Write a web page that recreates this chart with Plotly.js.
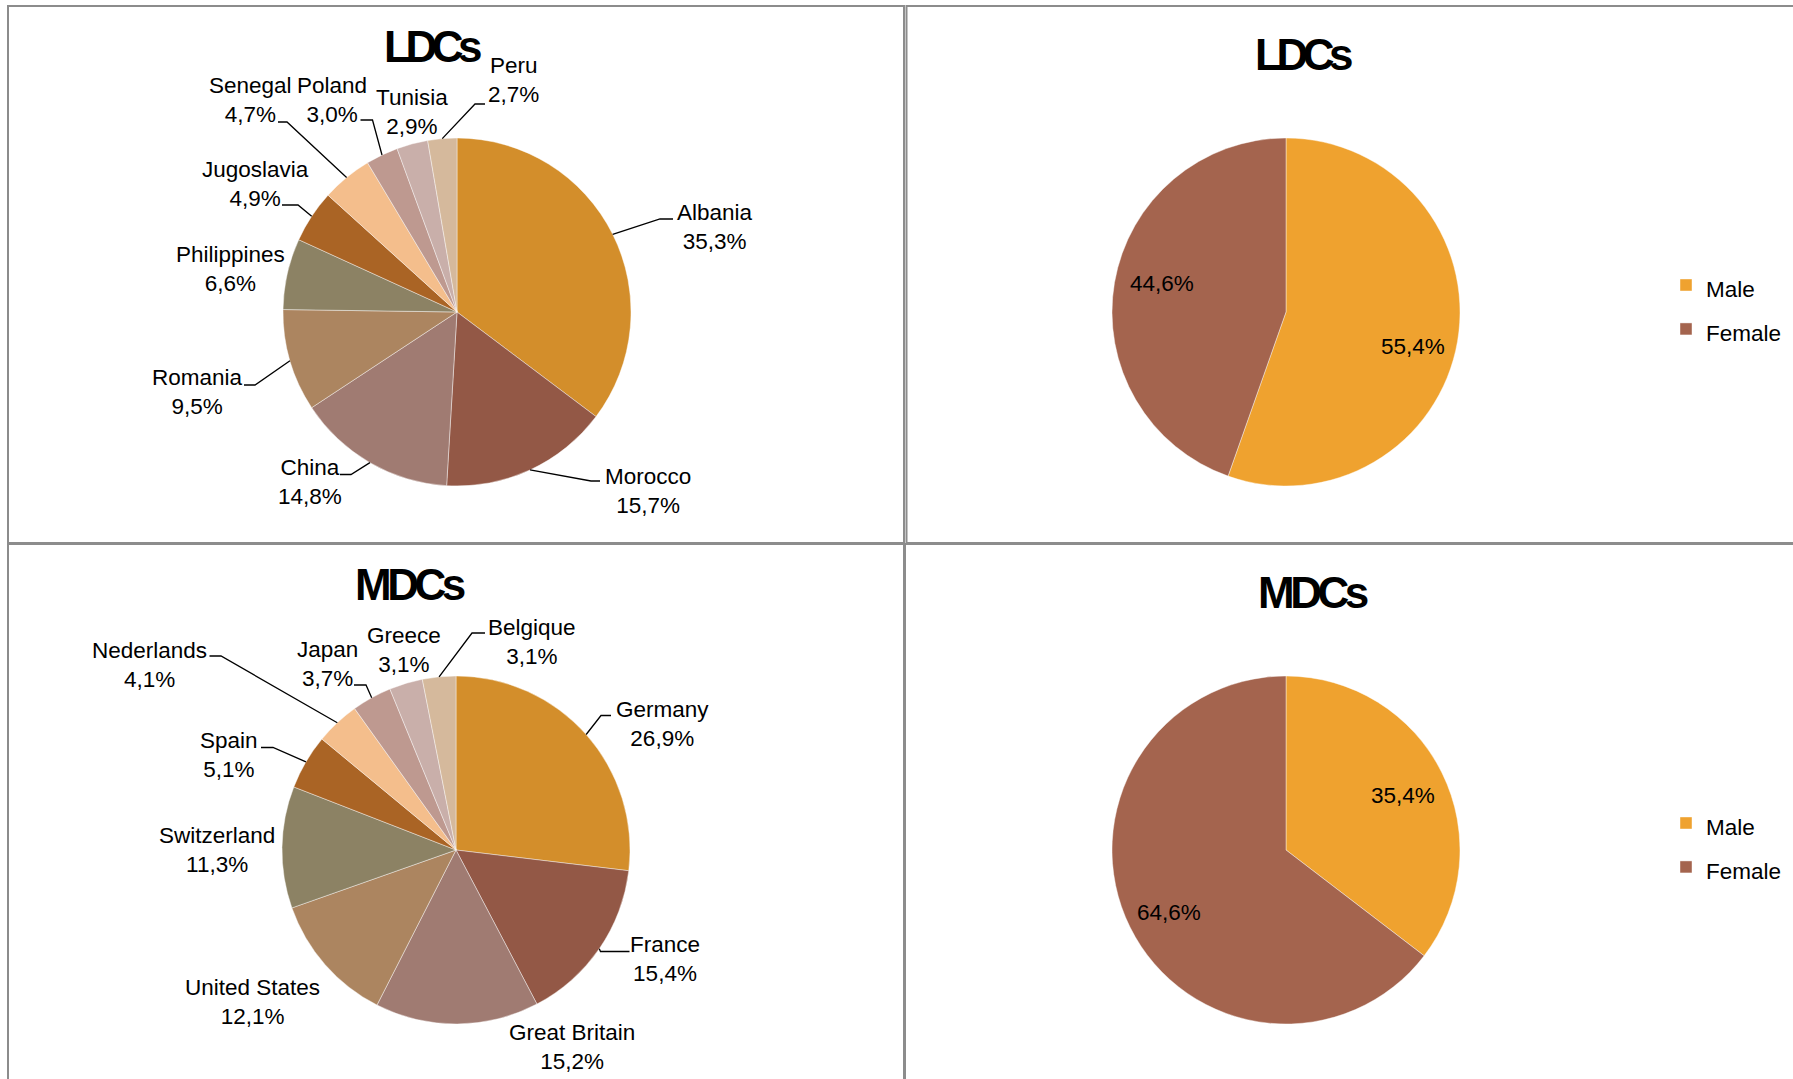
<!DOCTYPE html>
<html>
<head>
<meta charset="utf-8">
<script src="https://cdn.plot.ly/plotly-3.0.1.min.js"></script>
<style>
html,body{margin:0;padding:0;background:#ffffff;}
#chart{width:1793px;height:1079px;}
</style>
</head>
<body>
<div id="chart"></div>
<script>
// ---------------- DATA ----------------
const ldcCountries = ['Albania','Morocco','China','Romania','Philippines','Jugoslavia','Senegal','Poland','Tunisia','Peru'];
const ldcShares    = [35.3, 15.7, 14.8, 9.5, 6.6, 4.9, 4.7, 3.0, 2.9, 2.7];

const mdcCountries = ['Germany','France','Great Britain','United States','Switzerland','Spain','Nederlands','Japan','Greece','Belgique'];
const mdcShares    = [26.9, 15.4, 15.2, 12.1, 11.3, 5.1, 4.1, 3.7, 3.1, 3.1];

const genders   = ['Male','Female'];
const ldcGender = [55.4, 44.6];
const mdcGender = [35.4, 64.6];

const panelTitles = ['LDCs','LDCs','MDCs','MDCs'];

// ---------------- STYLE / LAYOUT ----------------
const W = 1793, H = 1079;
const R = 174;
const countryColors = ['#D38E2B','#935846','#A07B72','#AC8560','#8C8264','#AA6425','#F4BE8C','#BE9990','#C9AFAA','#D5B99C'];
const genderColors  = ['#EFA22F','#A4644E'];
const labelFont = {family:'Liberation Sans, Arial, sans-serif', size:22.5, color:'#000000'};
const titleFont = {family:'Liberation Sans, Arial, sans-serif', size:44, color:'#000000', weight:'bold'};
const titleSpacing = ['-5.5px','-5.5px','-4.5px','-4.5px'];

// pie centres in pixels
const centers = {tl:[457,312], tr:[1286,312], bl:[456,850], br:[1286,850]};
const titlePos = [[432,46],[1303,54],[410,584],[1313,592]];

// label centres (px) and leader-line ends [x, y, horizontal length] (null = no leader)
const ldcLabelPos = [[715,227],[648,491],[310,482],[197,392],[230,269],[255,184],[250,100],[332,100],[412,112],[513,80]];
const ldcLeader   = [[673,219,13],[600,481,9],[340,474.5,11],[244,385,11],null,[282,205,16],[278,122,9],[360.5,120,12],null,[485,104,10]];
const mdcLabelPos = [[662,724],[665,959],[572,1047],[252,1002],[217,850],[229,755],[149,665],[327,664],[404,650],[532,642]];
const mdcLeader   = [[611,715.5,10],[629.5,951.5,29],null,null,null,[261,747.5,12],[209.5,656,11.5],[354,685,12],null,[485,633,13]];
// small pixel nudges for the inside percentage labels of the gender pies
const ldcGenderNudge = [[0,13],[3,-7]];
const mdcGenderNudge = [[2,3],[-2,5]];

const fx = x => x / W;
const fy = y => 1 - y / H;
const fmt = v => v.toFixed(1).replace('.', ',') + '%';

function domainFor(c) {
  return {x:[fx(c[0]-R), fx(c[0]+R)], y:[fy(c[1]+R), fy(c[1]-R)]};
}

// geometry of slices (start at 12 o'clock, clockwise)
function sliceGeom(values, c, rFrac) {
  const total = values.reduce((a,b)=>a+b,0);
  let cum = 0;
  return values.map(v => {
    const mid = (cum + v/2) / total * 2 * Math.PI;
    cum += v;
    return {x: c[0] + R*rFrac*Math.sin(mid), y: c[1] - R*rFrac*Math.cos(mid)};
  });
}

const annotations = [];
const shapes = [];

// panel frames
const frameLine = {color:'#8C8C8C', width:2};
[[8,6,904,543],[906.5,6,1800,543],[8,544,904,1090],[905,544,1800,1090]].forEach(f => {
  shapes.push({type:'rect', xref:'paper', yref:'paper', x0:fx(f[0]), x1:fx(f[2]), y0:fy(f[3]), y1:fy(f[1]), line:frameLine, fillcolor:'rgba(0,0,0,0)', layer:'below'});
});

// titles
panelTitles.forEach((t,i) => {
  annotations.push({text:'<span style="letter-spacing:' + titleSpacing[i] + '">' + t + '</span>', xref:'paper', yref:'paper', x:fx(titlePos[i][0]), y:fy(titlePos[i][1]), xanchor:'center', yanchor:'middle', showarrow:false, font:titleFont});
});

// country labels with leader lines
function addCountryLabels(names, values, c, pos, leaders) {
  const edges = sliceGeom(values, c, 1);
  names.forEach((n,i) => {
    annotations.push({text:n + '<br>' + fmt(values[i]), xref:'paper', yref:'paper', x:fx(pos[i][0]), y:fy(pos[i][1]), xanchor:'center', yanchor:'middle', align:'center', showarrow:false, font:labelFont});
    const L = leaders[i];
    if (L) {
      const e = edges[i];
      const sign = L[0] > e.x ? 1 : -1;
      const ex = L[0] - sign*L[2];
      shapes.push({type:'path', xref:'paper', yref:'paper',
        path:`M${fx(e.x)},${fy(e.y)} L${fx(ex)},${fy(L[1])} L${fx(L[0])},${fy(L[1])}`,
        line:{color:'#000000', width:1.3}});
    }
  });
}
addCountryLabels(ldcCountries, ldcShares, centers.tl, ldcLabelPos, ldcLeader);
addCountryLabels(mdcCountries, mdcShares, centers.bl, mdcLabelPos, mdcLeader);

// gender percentage labels inside slices
function addGenderLabels(values, c, nudge) {
  const pts = sliceGeom(values, c, 0.74);
  values.forEach((v,i) => {
    annotations.push({text:fmt(v), xref:'paper', yref:'paper', x:fx(pts[i].x + nudge[i][0]), y:fy(pts[i].y + nudge[i][1]), xanchor:'center', yanchor:'middle', showarrow:false, font:labelFont});
  });
}
addGenderLabels(ldcGender, centers.tr, ldcGenderNudge);
addGenderLabels(mdcGender, centers.br, mdcGenderNudge);

const sliceLine = {color:'rgba(255,255,255,0.6)', width:0.7};
const common = {type:'pie', sort:false, direction:'clockwise', rotation:0, textinfo:'none', hovertemplate:'%{label}: %{value:.1f}%<extra></extra>'};
// legend entries: larger legend font spreads the rows, the label itself is drawn at label size.
// The two gender pies get distinct markup so each one fills its own legend.
const ldcLegendLabels = genders.map(g => '<span style="font-size:22.5px">' + g + '</span>');
const mdcLegendLabels = genders.map(g => '<span style="font-size:22.5px;">' + g + '</span>');

const data = [
  Object.assign({}, common, {labels:ldcCountries, values:ldcShares, marker:{colors:countryColors, line:sliceLine}, domain:domainFor(centers.tl), showlegend:false, name:'LDCs countries'}),
  Object.assign({}, common, {labels:ldcLegendLabels, values:ldcGender, marker:{colors:genderColors, line:sliceLine}, domain:domainFor(centers.tr), showlegend:true, legend:'legend', name:'LDCs gender'}),
  Object.assign({}, common, {labels:mdcCountries, values:mdcShares, marker:{colors:countryColors, line:sliceLine}, domain:domainFor(centers.bl), showlegend:false, name:'MDCs countries'}),
  Object.assign({}, common, {labels:mdcLegendLabels, values:mdcGender, marker:{colors:genderColors, line:sliceLine}, domain:domainFor(centers.br), showlegend:true, legend:'legend2', name:'MDCs gender'})
];

const legendFont = {family:'Liberation Sans, Arial, sans-serif', size:31.5, color:'#000000'};
const legendBase = {xanchor:'left', yanchor:'middle', font:legendFont, bgcolor:'rgba(0,0,0,0)', borderwidth:0, traceorder:'normal'};

const layout = {
  width:W, height:H,
  margin:{l:0, r:0, t:0, b:0, pad:0},
  paper_bgcolor:'#ffffff',
  plot_bgcolor:'#ffffff',
  separators:',.',
  font:labelFont,
  showlegend:true,
  legend: Object.assign({}, legendBase, {x:fx(1666), y:fy(307)}),
  legend2: Object.assign({}, legendBase, {x:fx(1666), y:fy(845)}),
  annotations:annotations,
  shapes:shapes
};

Plotly.newPlot('chart', data, layout, {staticPlot:true, displayModeBar:false});
</script>
</body>
</html>
